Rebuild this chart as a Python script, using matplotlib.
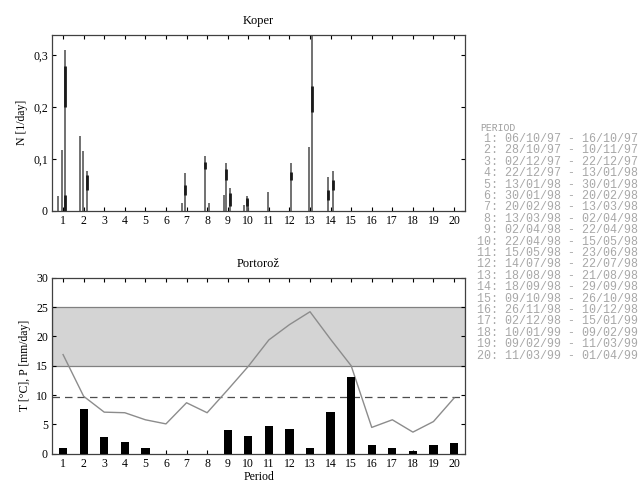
import numpy as np
import matplotlib
matplotlib.use('Agg')
import matplotlib.pyplot as plt

plt.rcParams['font.family'] = ['Liberation Serif', 'DejaVu Serif']

periods = np.arange(1, 21)

# Koper: spike positions (period units) and heights N [1/day]
spike_x = [0.77, 0.94, 1.10, 1.83, 1.99, 2.15, 6.77, 6.93, 7.90, 8.10,
           8.82, 8.92, 9.10, 9.80, 9.93, 10.0, 10.95, 12.06, 12.97, 13.08,
           13.89, 14.13]
spike_h = [0.028, 0.118, 0.31, 0.144, 0.115, 0.076, 0.015, 0.073, 0.105, 0.015,
           0.03, 0.092, 0.044, 0.012, 0.028, 0.02, 0.037, 0.092, 0.124, 0.45,
           0.066, 0.076]
# darker cores of the spikes
core_x = [1.10, 1.10, 2.15, 6.93, 7.90, 8.92, 9.10, 9.93, 12.06, 13.08, 13.89, 14.13]
core_lo = [0.2, 0.0, 0.04, 0.03, 0.08, 0.06, 0.01, 0.01, 0.06, 0.19, 0.02, 0.04]
core_hi = [0.28, 0.03, 0.07, 0.05, 0.095, 0.08, 0.035, 0.025, 0.075, 0.24, 0.04, 0.06]

# Portoroz: temperature (line) and precipitation (bars)
temp = [16.9, 9.8, 7.1, 7.0, 5.8, 5.1, 8.7, 7.0, 10.9, 14.9,
        19.4, 22.0, 24.2, 19.5, 15.0, 4.5, 5.8, 3.7, 5.5, 9.5]
prec = [1.0, 7.6, 2.8, 2.0, 1.0, 0.0, 0.0, 0.0, 4.0, 3.0,
        4.8, 4.2, 1.0, 7.2, 13.1, 1.5, 1.0, 0.5, 1.5, 1.8]
band = (15, 25)
dash_level = 9.7

period_dates = [
    ('06/10/97', '16/10/97'), ('28/10/97', '10/11/97'), ('02/12/97', '22/12/97'),
    ('22/12/97', '13/01/98'), ('13/01/98', '30/01/98'), ('30/01/98', '20/02/98'),
    ('20/02/98', '13/03/98'), ('13/03/98', '02/04/98'), ('02/04/98', '22/04/98'),
    ('22/04/98', '15/05/98'), ('15/05/98', '23/06/98'), ('14/07/98', '22/07/98'),
    ('18/08/98', '21/08/98'), ('18/09/98', '29/09/98'), ('09/10/98', '26/10/98'),
    ('26/11/98', '10/12/98'), ('02/12/98', '15/01/99'), ('10/01/99', '09/02/99'),
    ('09/02/99', '11/03/99'), ('11/03/99', '01/04/99'),
]

fig = plt.figure(figsize=(6.44, 4.88), dpi=100)
ax1 = fig.add_axes([0.081, 0.568, 0.641, 0.361])
ax2 = fig.add_axes([0.081, 0.070, 0.641, 0.361])

for ax in (ax1, ax2):
    ax.set_xlim(0.47, 20.53)
    ax.set_xticks(periods)
    ax.tick_params(direction='in', top=True, right=True, length=3, width=0.8,
                   labelsize=8.5, pad=3)
    for s in ax.spines.values():
        s.set_linewidth(0.9)
        s.set_color('0.25')

# top panel
ax1.vlines(spike_x, 0, spike_h, color='0.35', lw=1.2)
ax1.vlines(core_x, core_lo, core_hi, color='0.1', lw=2.0)
ax1.set_ylim(0, 0.34)
ax1.set_yticks([0, 0.1, 0.2, 0.3])
ax1.set_yticklabels(['0', '0,1', '0,2', '0,3'])
ax1.set_ylabel('N [1/day]', fontsize=8.5, labelpad=4)
ax1.set_title('Koper', fontsize=9, pad=8)

# bottom panel
ax2.axhspan(band[0], band[1], facecolor='#d4d4d4', edgecolor='0.5', lw=0.9, zorder=0)
ax2.axhline(dash_level, color='0.3', lw=0.9, ls=(0, (6, 4)), zorder=1)
ax2.plot(periods, temp, color='0.55', lw=1.0, zorder=2)
ax2.bar(periods, prec, width=0.4, color='black', zorder=3)
ax2.set_ylim(0, 30)
ax2.set_yticks(np.arange(0, 31, 5))
ax2.set_ylabel('T [°C], P [mm/day]', fontsize=8.5, labelpad=4)
ax2.set_xlabel('Period', fontsize=8.5, labelpad=1)
ax2.set_title('Portorož', fontsize=9, pad=8)

# period table on the right
fig.text(0.745, 0.738, 'PERIOD', family='Liberation Mono', fontsize=7,
         color='0.62', va='center')
for i, (d0, d1) in enumerate(period_dates):
    fig.text(0.741, 0.715 - i * 0.02335, '%2d: %s - %s' % (i + 1, d0, d1),
             family='Liberation Mono', fontsize=8.4, color='0.66', va='center')

fig.savefig('out.png', dpi=100)
